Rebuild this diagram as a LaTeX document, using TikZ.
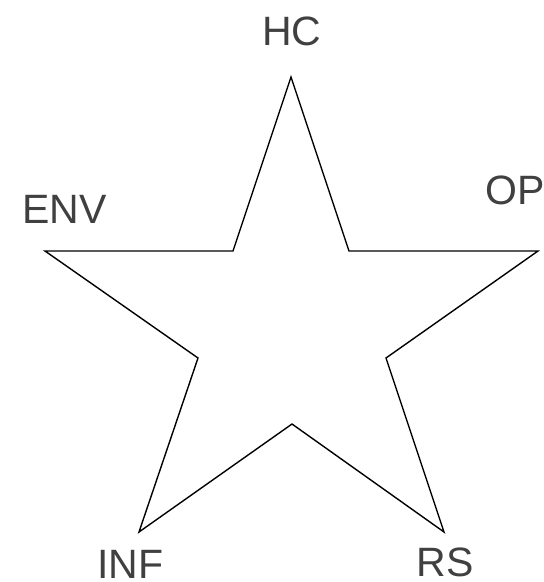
\documentclass[tikz,border=0pt]{standalone}
\usepackage{fontspec}
\setmainfont{Liberation Sans}
\definecolor{labelgray}{HTML}{404040}
\begin{document}
\begin{tikzpicture}[x=1pt,y=-1pt,
  lbl/.style={anchor=base,inner sep=0pt,text depth=0pt,text=labelgray,font=\fontsize{41}{48}\selectfont},
  starline/.style={draw=black,line width=1.4pt,line join=miter}]
\useasboundingbox (0,0) rectangle (544,582);
\draw[starline] (291,77) -- (349,251) -- (538,251) -- (386,358) -- (444,532)
  -- (292,424) -- (139,532) -- (198,358) -- (45,251) -- (233,251) -- cycle;
\node[lbl] (hc) at (292,45) {HC};
\node[lbl] (op) at (515.5,204) {OP};
\node[lbl] (env) at (64.5,223) {ENV};
\node[lbl] (inf) at (130.5,578) {INF};
\node[lbl] (rs) at (445,576) {RS};
\end{tikzpicture}
\end{document}
